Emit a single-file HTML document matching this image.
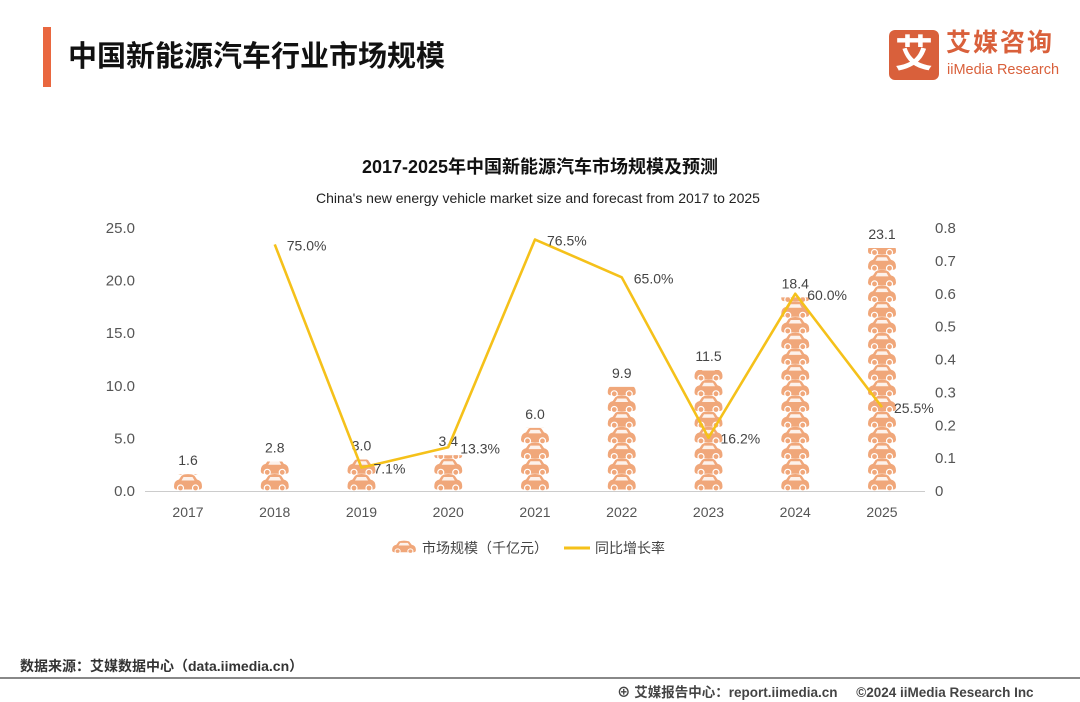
<!DOCTYPE html>
<html><head><meta charset="utf-8"><style>
body{margin:0;width:1080px;height:702px;background:#fff;overflow:hidden;font-family:"Liberation Sans","Noto Sans CJK SC",sans-serif;position:relative}
.a{position:absolute}
</style></head><body>
<div class="a" style="left:43px;top:27px;width:8px;height:60px;background:#e9673f"></div>
<div class="a" style="left:68px;top:33px;font-size:29px;font-weight:bold;color:#111">中国新能源汽车行业市场规模</div>
<div class="a" style="left:889px;top:30px;width:50px;height:50px;background:#d9603b;border-radius:6px;color:#fff;font-size:38px;font-weight:bold;text-align:center;line-height:50px">艾</div>
<div class="a" style="left:946px;top:28px;font-size:25px;line-height:30px;font-weight:bold;color:#d9603b;letter-spacing:2px">艾媒咨询</div>
<div class="a" style="left:947px;top:61px;font-size:14.5px;line-height:18px;color:#d9603b">iiMedia Research</div>
<svg class="a" style="left:0;top:0" width="1080" height="702" id="chart">
<text x="540" y="173" text-anchor="middle" font-size="18" font-weight="bold" fill="#111">2017-2025年中国新能源汽车市场规模及预测</text>
<text x="538" y="203" text-anchor="middle" font-size="14" fill="#222">China's new energy vehicle market size and forecast from 2017 to 2025</text>
<defs><g id="car"><path d="M-14,4 Q-14,-2 -9,-3 L-6,-7.5 Q0,-9.5 6,-7.5 L9,-3 Q14,-2 14,4 Q14,7 11,7 L-11,7 Q-14,7 -14,4Z" fill="#f0a77a"/><path d="M-4.5,-5.5 L4.5,-5.5 L6.5,-2 L-6.5,-2Z" fill="#fff" opacity="0.85"/><circle cx="-7.5" cy="5.5" r="3" fill="#f0a77a" stroke="#fff" stroke-width="1.2"/><circle cx="7.5" cy="5.5" r="3" fill="#f0a77a" stroke="#fff" stroke-width="1.2"/></g></defs>
<g id="g"></g>
</svg>
<div class="a" style="left:20px;top:656px;font-size:14px;font-weight:bold;color:#333">数据来源：艾媒数据中心（data.iimedia.cn）</div>
<div class="a" style="left:0;top:677px;width:1080px;height:2px;background:#888"></div>
<div class="a" style="left:617px;top:681px;font-size:13.5px;font-weight:bold;color:#444;white-space:nowrap">⊕ 艾媒报告中心：report.iimedia.cn &nbsp;&nbsp;&nbsp;&nbsp;©2024 iiMedia Research Inc</div>
<script>
const years=["2017","2018","2019","2020","2021","2022","2023","2024","2025"];
const sizes=[1.6,2.8,3.0,3.4,6.0,9.9,11.5,18.4,23.1];
const growth=[null,75.0,7.1,13.3,76.5,65.0,16.2,60.0,25.5];
const leftTicks=["0.0","5.0","10.0","15.0","20.0","25.0"];
const rightTicks=["0","0.1","0.2","0.3","0.4","0.5","0.6","0.7","0.8"];
const NS="http://www.w3.org/2000/svg",g=document.getElementById('g');
const y0=491,yL=v=>y0-v*263/25,yR=v=>y0-v*263/0.8,xC=i=>188+i*86.75;
function el(t,a,txt){const e=document.createElementNS(NS,t);for(const k in a)e.setAttribute(k,a[k]);if(txt!=null)e.textContent=txt;g.appendChild(e);return e;}
leftTicks.forEach((t,i)=>{const e=el('text',{x:135,y:yL(i*5)+5,'text-anchor':'end','font-size':15,fill:'#555'},t);

});
rightTicks.forEach((t,i)=>{const e=el('text',{x:935,y:yR(i*0.1)+5,'font-size':15,fill:'#555'},t);

});
const ax=el('line',{x1:145,x2:925,y1:y0+0.5,y2:y0+0.5,stroke:'#ccc'});


years.forEach((yr,i)=>{const x=xC(i);
const t=el('text',{x:x,y:517,'text-anchor':'middle','font-size':14,fill:'#555'},yr);


const top=yL(sizes[i]);
const cp=el('clipPath',{id:'c'+i});const r=document.createElementNS(NS,'rect');r.setAttribute('x',x-20);r.setAttribute('y',top);r.setAttribute('width',40);r.setAttribute('height',y0-top);cp.appendChild(r);
const bg=el('g',{'clip-path':'url(#c'+i+')'});


for(let k=0;y0-8-k*15.7>top-16;k++){const u=document.createElementNS(NS,'use');u.setAttribute('href','#car');u.setAttribute('transform','translate('+x+','+(y0-8.5-k*15.7)+')');bg.appendChild(u);}
const v=el('text',{x:x,y:top-9,'text-anchor':'middle','font-size':14,fill:'#444'},sizes[i].toFixed(1));

});
let d='';growth.forEach((v,i)=>{if(v==null)return;d+=(d?'L':'M')+xC(i)+','+yR(v/100);});
const ln=el('path',{d:d,fill:'none',stroke:'#f5c11a','stroke-width':2.6,'stroke-linejoin':'round'});


growth.forEach((v,i)=>{if(v==null)return;const t=el('text',{x:xC(i)+12,y:yR(v/100)+6,'font-size':14,fill:'#444'},v.toFixed(1)+'%');

});
const lu=document.createElementNS(NS,'use');lu.setAttribute('href','#car');lu.setAttribute('transform','translate(404,547) scale(0.85,0.75)');g.appendChild(lu);


const l1=el('text',{x:422,y:553,'font-size':14,fill:'#444'},'市场规模（千亿元）');


const ll=el('line',{x1:564,x2:590,y1:548,y2:548,stroke:'#f5c11a','stroke-width':3});


const l2=el('text',{x:595,y:553,'font-size':14,fill:'#444'},'同比增长率');


</script>
</body></html>
